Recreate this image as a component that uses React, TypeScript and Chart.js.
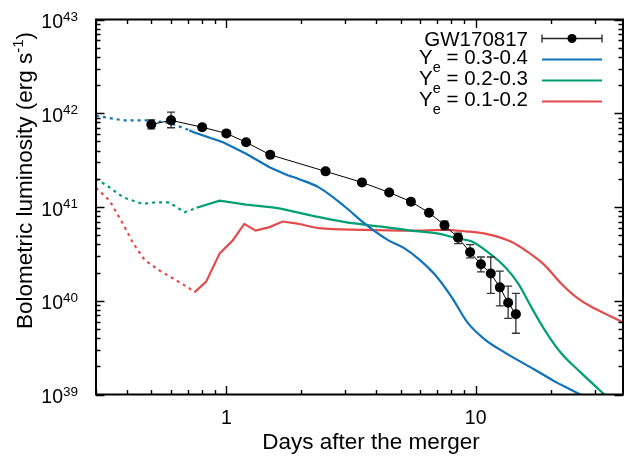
import { useEffect, useRef } from 'react';
import { Chart, registerables } from 'chart.js';

Chart.register(...registerables);

const FONT = '"Liberation Sans", Arial, Helvetica, sans-serif';

// GW170817 bolometric light curve (days, erg/s) with error bar bounds
const gwDays = [0.5, 0.6, 0.8, 1.0, 1.2, 1.5, 2.5, 3.5, 4.5, 5.5, 6.5, 7.5, 8.5, 9.5, 10.5, 11.5, 12.5, 13.5, 14.5];
const gwLum = [7.6e41, 8.4e41, 7.1e41, 6.1e41, 4.9e41, 3.6e41, 2.4e41, 1.83e41, 1.43e41, 1.14e41, 8.7e40, 6.4e40, 4.7e40, 3.3e40, 2.45e40, 1.95e40, 1.39e40, 9.5e39, 7.2e39];
const gwLumLow = [6.8e41, 7.0e41, 6.6e41, 5.7e41, 4.6e41, 3.4e41, 2.25e41, 1.72e41, 1.35e41, 1.06e41, 8.1e40, 5.7e40, 4.07e40, 2.86e40, 2.03e40, 1.2e40, 8.8e39, 6.5e39, 4.5e39];
const gwLumHigh = [8.5e41, 1.03e42, 7.6e41, 6.5e41, 5.2e41, 3.85e41, 2.55e41, 1.95e41, 1.52e41, 1.22e41, 9.3e40, 7.07e40, 5.27e40, 3.97e40, 2.93e40, 2.93e40, 2.07e40, 1.43e40, 1.2e40];

// Model light curves for three electron-fraction ranges
const ye34Days = [0.3, 0.385, 0.49, 0.59, 0.71, 0.735, 0.97, 1.2, 1.49, 1.78, 1.96, 2.35, 3.0, 3.6, 4.47, 5.2, 5.9, 6.9, 8.0, 9.3, 10.9, 13.1, 17.2, 21.3, 25.7, 30];
const ye34Lum = [9.4e41, 8.4e41, 8.4e41, 7.9e41, 6.6e41, 6.3e41, 4.9e41, 3.7e41, 2.65e41, 2.16e41, 1.98e41, 1.62e41, 1.0e41, 6.6e40, 4.4e40, 3.6e40, 2.8e40, 1.87e40, 1.1e40, 5.8e39, 3.85e39, 2.8e39, 1.85e39, 1.33e39, 1.03e39, 8e38];

const ye23Days = [0.3, 0.34, 0.385, 0.46, 0.52, 0.59, 0.68, 0.76, 0.94, 1.2, 1.53, 1.65, 2.2, 3.0, 4.1, 5.5, 7.1, 8.5, 9.6, 11.2, 13.1, 14.8, 16.7, 18.9, 22.0, 26.5, 32.3, 36];
const ye23Lum = [2.0e41, 1.62e41, 1.27e41, 1.08e41, 1.12e41, 1.12e41, 8.8e40, 9.8e40, 1.17e41, 1.06e41, 9.9e40, 9.6e40, 8.1e40, 6.9e40, 6.2e40, 5.6e40, 5.2e40, 4.6e40, 4.3e40, 3.3e40, 2.3e40, 1.53e40, 8.6e39, 4.9e39, 2.77e39, 1.7e39, 1.04e39, 8e38];

const ye12Days = [0.3, 0.34, 0.385, 0.423, 0.471, 0.54, 0.611, 0.71, 0.745, 0.83, 0.94, 1.06, 1.18, 1.31, 1.49, 1.68, 1.96, 2.35, 3.5, 5.5, 7.5, 9.1, 10.9, 13.9, 16.2, 18.9, 22.0, 25.7, 29.9, 34.9, 39.4];
const ye12Lum = [1.6e41, 1.17e41, 6.6e40, 4.1e40, 2.7e40, 2.1e40, 1.73e40, 1.36e40, 1.23e40, 1.6e40, 3.2e40, 4.4e40, 6.6e40, 5.6e40, 6.1e40, 7.0e40, 6.6e40, 5.95e40, 5.7e40, 5.6e40, 5.7e40, 5.5e40, 5.2e40, 4.25e40, 3.3e40, 2.4e40, 1.53e40, 1.06e40, 8.3e39, 6.8e39, 5.8e39];

// Early-time parts of the models are drawn dotted up to these days
const ye34DottedUntil = 0.72;
const ye23DottedUntil = 0.76;
const ye12DottedUntil = 0.745;
// Beyond this day the model curves are smooth
const smoothFromDay = 1.7;

const seriesLabels = ['GW170817', '0.3-0.4', '0.2-0.3', '0.1-0.2'];
const seriesColors = ['#000000', '#0f72bd', '#009e73', '#e54b4b'];

const xMin = 0.3;
const xMax = 39;
const xTickLabels = [1, 10];
const yMinExp = 39;
const yMaxExp = 43;

type Run = { t: string; size: number; dy?: number };

function runsWidth(ctx: CanvasRenderingContext2D, runs: Run[]) {
  let w = 0;
  for (const r of runs) {
    ctx.font = `${r.size}px ${FONT}`;
    w += ctx.measureText(r.t).width;
  }
  return w;
}

function drawRuns(ctx: CanvasRenderingContext2D, runs: Run[], x: number, y: number, align: 'left' | 'right' | 'center') {
  const w = runsWidth(ctx, runs);
  let cx = align === 'left' ? x : align === 'right' ? x - w : x - w / 2;
  ctx.textAlign = 'left';
  ctx.textBaseline = 'alphabetic';
  for (const r of runs) {
    ctx.font = `${r.size}px ${FONT}`;
    ctx.fillText(r.t, cx, y + (r.dy ?? 0));
    cx += ctx.measureText(r.t).width;
  }
}

function dotted(limit: number) {
  return (c: any) => (c.p1.parsed.x <= limit ? [3, 4] : undefined);
}

const decorPlugin = {
  id: 'decor',
  beforeDatasetDraw(chart: any, args: any) {
    if (args.index !== 0) return;
    const { ctx, scales } = chart;
    const x = scales.x;
    const y = scales.y;
    ctx.save();
    ctx.strokeStyle = '#333333';
    ctx.lineWidth = 1.3;
    gwDays.forEach((d, i) => {
      const px = x.getPixelForValue(d);
      const y1 = y.getPixelForValue(gwLumLow[i]);
      const y2 = y.getPixelForValue(gwLumHigh[i]);
      ctx.beginPath();
      ctx.moveTo(px, y1);
      ctx.lineTo(px, y2);
      ctx.moveTo(px - 4, y1);
      ctx.lineTo(px + 4, y1);
      ctx.moveTo(px - 4, y2);
      ctx.lineTo(px + 4, y2);
      ctx.stroke();
    });
    ctx.restore();
  },
  afterDraw(chart: any) {
    const { ctx, chartArea, scales } = chart;
    const x = scales.x;
    const y = scales.y;
    const { left, right, top, bottom } = chartArea;
    ctx.save();
    ctx.fillStyle = '#000';
    ctx.strokeStyle = '#000';

    // inward ticks on all four sides
    ctx.lineWidth = 1.4;
    ctx.beginPath();
    for (let e = -1; e <= 1; e++) {
      for (let k = 1; k <= 9; k++) {
        const v = k * Math.pow(10, e);
        if (v < xMin || v > xMax) continue;
        const px = Math.round(x.getPixelForValue(v)) + 0.5;
        const len = k === 1 ? 8.5 : 4.5;
        ctx.moveTo(px, bottom);
        ctx.lineTo(px, bottom - len);
        ctx.moveTo(px, top);
        ctx.lineTo(px, top + len);
      }
    }
    for (let e = yMinExp; e <= yMaxExp; e++) {
      for (let k = 1; k <= 9; k++) {
        if (e === yMaxExp && k > 1) break;
        const v = k * Math.pow(10, e);
        const py = Math.round(y.getPixelForValue(v)) + 0.5;
        const len = k === 1 ? 8.5 : 4.5;
        ctx.moveTo(left, py);
        ctx.lineTo(left + len, py);
        ctx.moveTo(right, py);
        ctx.lineTo(right - len, py);
      }
    }
    ctx.stroke();

    // frame
    ctx.lineWidth = 2;
    ctx.strokeRect(left, top, right - left, bottom - top);

    // x tick labels
    ctx.font = `19.5px ${FONT}`;
    ctx.textAlign = 'center';
    ctx.textBaseline = 'alphabetic';
    for (const v of xTickLabels) {
      ctx.fillText(String(v), x.getPixelForValue(v), 423.5);
    }

    // y tick labels as powers of ten
    for (let e = yMinExp; e <= yMaxExp; e++) {
      const py = y.getPixelForValue(Math.pow(10, e));
      drawRuns(ctx, [
        { t: '10', size: 19.5 },
        { t: String(e), size: 13.5, dy: -7.5 },
      ], 78, py + 8.5, 'right');
    }

    // axis titles
    drawRuns(ctx, [{ t: 'Days after the merger', size: 22.5 }], 371, 448.5, 'center');
    ctx.save();
    ctx.translate(32, 180.5);
    ctx.rotate(-Math.PI / 2);
    drawRuns(ctx, [
      { t: 'Bolometric luminosity (erg s', size: 22.5 },
      { t: '-1', size: 15, dy: -9 },
      { t: ')', size: 22.5 },
    ], 0, 0, 'center');
    ctx.restore();

    // legend
    const textRight = 528;
    const sx0 = 542;
    const sx1 = 602;
    const rowY = [38.5, 59.5, 80.5, 101.5];
    drawRuns(ctx, [{ t: seriesLabels[0], size: 20.5 }], textRight, rowY[0] + 7, 'right');
    ctx.strokeStyle = '#222';
    ctx.lineWidth = 1.3;
    ctx.beginPath();
    ctx.moveTo(sx0, rowY[0]);
    ctx.lineTo(sx1, rowY[0]);
    ctx.moveTo(sx0, rowY[0] - 4);
    ctx.lineTo(sx0, rowY[0] + 4);
    ctx.moveTo(sx1, rowY[0] - 4);
    ctx.lineTo(sx1, rowY[0] + 4);
    ctx.stroke();
    ctx.beginPath();
    ctx.arc((sx0 + sx1) / 2, rowY[0], 4.5, 0, Math.PI * 2);
    ctx.fillStyle = '#000';
    ctx.fill();
    for (let i = 1; i < 4; i++) {
      ctx.fillStyle = '#000';
      drawRuns(ctx, [
        { t: 'Y', size: 20.5 },
        { t: 'e', size: 14.5, dy: 8.5 },
        { t: ' = ' + seriesLabels[i], size: 20.5 },
      ], textRight, rowY[i] + 4, 'right');
      ctx.strokeStyle = seriesColors[i];
      ctx.lineWidth = 2.2;
      ctx.beginPath();
      ctx.moveTo(sx0, rowY[i]);
      ctx.lineTo(sx1, rowY[i]);
      ctx.stroke();
    }
    ctx.restore();
  },
};

function pts(xs: number[], ys: number[]) {
  return xs.map((d, i) => ({ x: d, y: ys[i] }));
}

// Each model is drawn as a straight-segment early part and a smooth late part
function model(i: number, xs: number[], ys: number[], dottedUntil: number) {
  const all = pts(xs, ys);
  const cut = xs.findIndex((d) => d >= smoothFromDay);
  const base = {
    label: seriesLabels[i],
    borderColor: seriesColors[i],
    borderWidth: 2.2,
    pointRadius: 0,
  };
  return [
    { ...base, data: all.slice(0, cut + 1), tension: 0, segment: { borderDash: dotted(dottedUntil) } },
    { ...base, data: all.slice(cut), cubicInterpolationMode: 'monotone' as const },
  ];
}

export default function App() {
  const ref = useRef<HTMLCanvasElement>(null);

  useEffect(() => {
    if (!ref.current) return;
    const chart = new Chart(ref.current, {
      type: 'line',
      data: {
        datasets: [
          {
            label: seriesLabels[0],
            data: pts(gwDays, gwLum),
            borderColor: '#000',
            backgroundColor: '#000',
            borderWidth: 1,
            pointRadius: 5,
            pointBorderWidth: 0,
            pointBackgroundColor: '#000',
          },
          ...model(1, ye34Days, ye34Lum, ye34DottedUntil),
          ...model(2, ye23Days, ye23Lum, ye23DottedUntil),
          ...model(3, ye12Days, ye12Lum, ye12DottedUntil),
        ] as any,
      },
      options: {
        responsive: false,
        animation: false,
        events: [],
        layout: { padding: { left: 96, right: 3, top: 19.5, bottom: 65.5 } },
        plugins: { legend: { display: false }, tooltip: { enabled: false } },
        scales: {
          x: { type: 'logarithmic', min: xMin, max: xMax, display: false },
          y: { type: 'logarithmic', min: Math.pow(10, yMinExp), max: Math.pow(10, yMaxExp), display: false },
        },
      },
      plugins: [decorPlugin],
    });
    return () => chart.destroy();
  }, []);

  return (
    <div style={{ position: 'fixed', left: 0, top: 0, width: 628, height: 460, background: '#fff' }}>
      <canvas ref={ref} width={628} height={460} style={{ display: 'block' }} />
    </div>
  );
}
